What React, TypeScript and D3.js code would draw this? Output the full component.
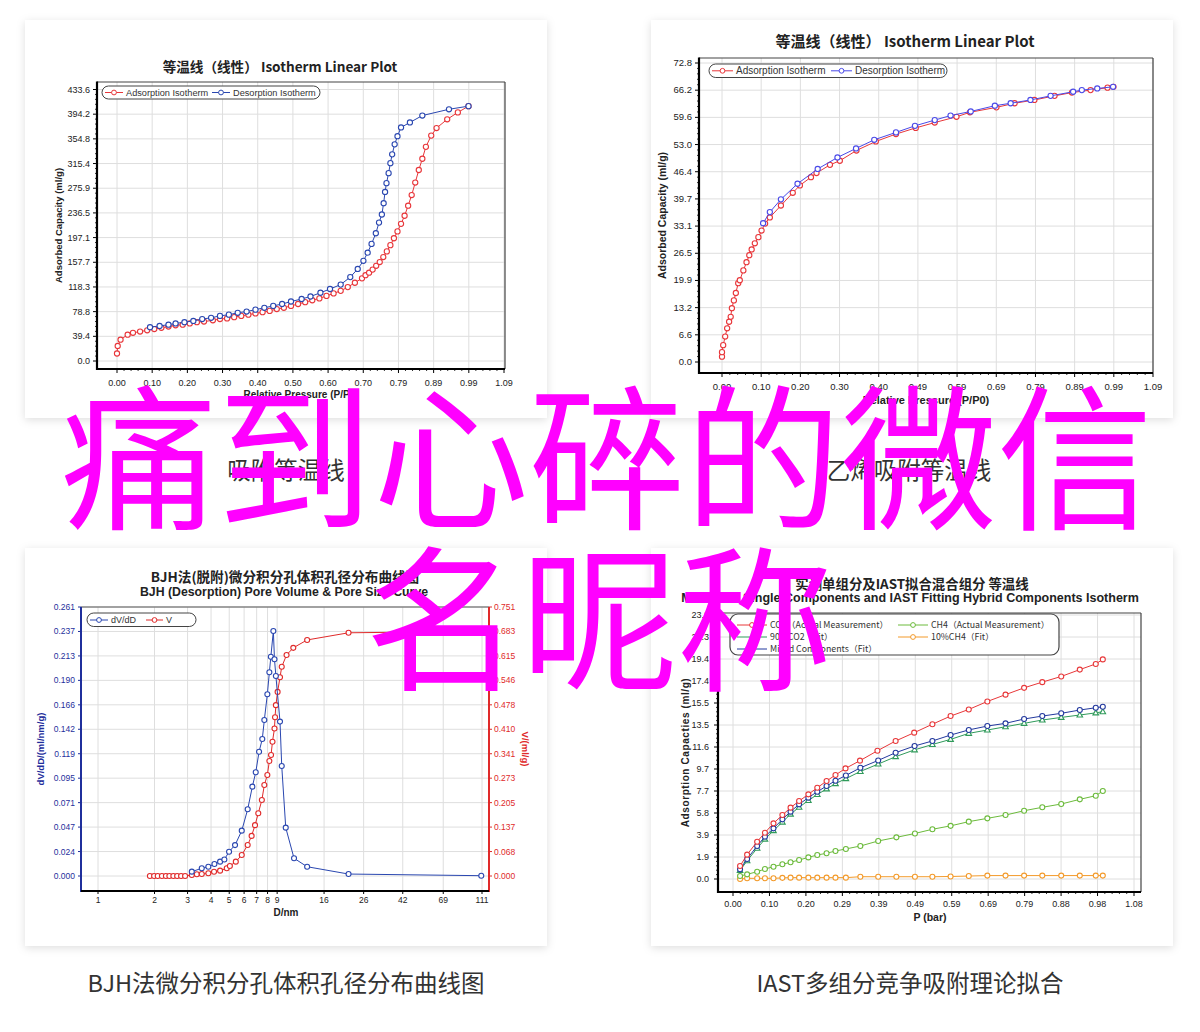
import React from "react";
import * as d3 from "d3";

type Pt = [number, number];
type Tick = { v: number; label: string };

const FONT = "'Liberation Sans', Arial, Helvetica, sans-serif";
const CJK = "'Noto Sans CJK SC', 'Liberation Sans', sans-serif";

// ================= Panel 1: Isotherm (top-left) =================
const p1Title = "等温线（线性） Isotherm Linear Plot";
const p1XLabels = ["0.00", "0.10", "0.20", "0.30", "0.40", "0.50", "0.60", "0.70", "0.79", "0.89", "0.99", "1.09"];
const p1YLabels = ["0.0", "39.4", "78.8", "118.3", "157.7", "197.1", "236.5", "275.9", "315.4", "354.8", "394.2", "433.6"];
const p1Adsorption: Pt[] = [
  [0.0, 12], [0.002, 24], [0.01, 34], [0.03, 42], [0.045, 45], [0.065, 47], [0.085, 49], [0.105, 51],
  [0.125, 53], [0.145, 55], [0.165, 57], [0.185, 58], [0.205, 60], [0.225, 62], [0.245, 63], [0.27, 65],
  [0.29, 67], [0.31, 68], [0.33, 70], [0.35, 72], [0.37, 74], [0.39, 76], [0.41, 78], [0.43, 80],
  [0.45, 83], [0.47, 85], [0.49, 88], [0.51, 91], [0.53, 94], [0.55, 97], [0.57, 100], [0.59, 104],
  [0.61, 108], [0.63, 112], [0.65, 118], [0.67, 125], [0.69, 132], [0.7, 137], [0.71, 141], [0.72, 146],
  [0.73, 152], [0.74, 158], [0.75, 166], [0.76, 175], [0.77, 185], [0.78, 196], [0.79, 207], [0.8, 219],
  [0.81, 232], [0.82, 248], [0.83, 265], [0.84, 285], [0.85, 305], [0.86, 323], [0.87, 342], [0.885, 360],
  [0.9, 372], [0.93, 386], [0.96, 397], [0.99, 407],
];
const p1Desorption: Pt[] = [
  [0.99, 407], [0.935, 402], [0.86, 392], [0.825, 381], [0.8, 373], [0.79, 359], [0.782, 346], [0.775, 330],
  [0.77, 316], [0.765, 300], [0.759, 284], [0.755, 270], [0.751, 252], [0.746, 234], [0.738, 221], [0.729, 204],
  [0.717, 187], [0.706, 173], [0.694, 160], [0.678, 147], [0.657, 134], [0.63, 122], [0.6, 115], [0.573, 109],
  [0.545, 103], [0.52, 99], [0.49, 95], [0.465, 91], [0.44, 88], [0.415, 85], [0.39, 82], [0.365, 79],
  [0.34, 77], [0.315, 74], [0.29, 72], [0.265, 69], [0.24, 67], [0.215, 64], [0.19, 62], [0.165, 60],
  [0.145, 58], [0.12, 56], [0.093, 54],
];

// ================= Panel 2: Isotherm (top-right) =================
const p2Title = "等温线（线性） Isotherm Linear Plot";
const p2XLabels = ["0.00", "0.10", "0.20", "0.30", "0.40", "0.49", "0.59", "0.69", "0.79", "0.89", "0.99", "1.09"];
const p2YLabels = ["0.0", "6.6", "13.2", "19.9", "26.5", "33.1", "39.7", "46.4", "53.0", "59.6", "66.2", "72.8"];
const p2Adsorption: Pt[] = [
  [0.0, 1.3], [0.0, 2.4], [0.003, 4.1], [0.008, 6.2], [0.013, 8.2], [0.018, 9.8], [0.022, 11.0], [0.025, 13.1],
  [0.03, 15.0], [0.035, 16.8], [0.041, 19.2], [0.045, 19.9], [0.054, 22.3], [0.062, 24.3], [0.069, 26.0],
  [0.075, 27.4], [0.083, 28.9], [0.092, 30.4], [0.1, 32.0], [0.109, 33.7], [0.121, 35.2], [0.149, 38.1],
  [0.179, 41.2], [0.197, 43.0], [0.225, 45.0], [0.239, 46.0], [0.273, 48.0], [0.298, 49.0], [0.34, 51.5],
  [0.389, 53.7], [0.44, 55.5], [0.49, 57.0], [0.538, 58.3], [0.593, 59.7], [0.627, 60.8], [0.694, 62.0],
  [0.74, 63.0], [0.79, 63.8], [0.841, 64.8], [0.885, 65.6], [0.932, 66.2], [0.975, 66.8], [0.99, 67.0],
];
const p2Desorption: Pt[] = [
  [0.104, 33.8], [0.121, 36.5], [0.149, 39.6], [0.191, 43.4], [0.242, 47.0], [0.292, 49.8], [0.339, 52.0],
  [0.385, 54.1], [0.44, 55.9], [0.488, 57.5], [0.538, 58.9], [0.578, 60.0], [0.629, 61.0], [0.69, 62.4],
  [0.73, 63.0], [0.78, 63.8], [0.831, 64.8], [0.888, 65.8], [0.91, 66.2], [0.949, 66.6], [0.989, 67.0],
];

// ================= Panel 3: BJH (bottom-left) =================
const p3Title1 = "BJH法(脱附)微分积分孔体积孔径分布曲线图";
const p3Title2 = "BJH (Desorption) Pore Volume & Pore Size Curve";
const p3XTicks = [1, 2, 3, 4, 5, 6, 7, 8, 9, 16, 26, 42, 69, 111];
const p3YLeftLabels = ["0.000", "0.024", "0.047", "0.071", "0.095", "0.119", "0.142", "0.166", "0.190", "0.213", "0.237", "0.261"];
const p3YRightLabels = ["0.000", "0.068", "0.137", "0.205", "0.273", "0.341", "0.410", "0.478", "0.546", "0.615", "0.683", "0.751"];
const p3dVdD: Pt[] = [
  [3.16, 0.0042], [3.57, 0.0075], [3.87, 0.009], [4.17, 0.0116], [4.47, 0.0139], [4.71, 0.016], [4.99, 0.0236],
  [5.37, 0.03], [5.83, 0.044], [6.27, 0.0647], [6.64, 0.0867], [6.92, 0.1006], [7.21, 0.1206], [7.5, 0.1329],
  [7.69, 0.1514], [7.98, 0.1763], [8.18, 0.1977], [8.33, 0.2128], [8.59, 0.2377], [8.71, 0.2103], [8.86, 0.1941],
  [9.32, 0.1498], [9.52, 0.1067], [10.0, 0.0469], [11.07, 0.0172], [13.0, 0.009], [21.6, 0.0019], [110, 0.0003],
];
const p3V: Pt[] = [
  [1.89, 0], [1.99, 0], [2.08, 0], [2.19, 0], [2.3, 0], [2.4, 0], [2.52, 0], [2.64, 0], [2.77, 0], [2.91, 0],
  [3.16, 0.003], [3.36, 0.005], [3.57, 0.0056], [3.87, 0.0075], [4.15, 0.012], [4.47, 0.015], [4.85, 0.0215],
  [5.04, 0.028], [5.42, 0.04], [5.83, 0.0586], [6.27, 0.0865], [6.58, 0.112], [6.86, 0.142], [7.14, 0.175],
  [7.46, 0.212], [7.69, 0.254], [7.98, 0.282], [8.18, 0.321], [8.35, 0.338], [8.5, 0.375], [8.71, 0.412],
  [8.77, 0.443], [8.86, 0.477], [9.05, 0.514], [9.32, 0.555], [9.52, 0.584], [10.1, 0.617], [10.97, 0.637],
  [13.0, 0.659], [21.6, 0.679], [111, 0.683],
];

// ================= Panel 4: IAST (bottom-right) =================
const p4Title1 = "实测单组分及IAST拟合混合组分 等温线";
const p4Title2 = "Measured Single Components and IAST Fitting Hybrid Components Isotherm";
const p4XLabels = ["0.00", "0.10", "0.20", "0.29", "0.39", "0.49", "0.59", "0.69", "0.79", "0.88", "0.98", "1.08"];
const p4YLabels = ["0.0", "1.9", "3.9", "5.8", "7.7", "9.7", "11.6", "13.5", "15.5", "17.4", "19.4", "21.3", "23.2"];
const p4CO2: Pt[] = [
  [0.019, 1.14], [0.038, 2.14], [0.065, 3.28], [0.086, 4.07], [0.109, 4.89], [0.133, 5.62], [0.155, 6.27],
  [0.178, 6.85], [0.203, 7.44], [0.227, 8.02], [0.252, 8.61], [0.276, 9.14], [0.303, 9.72], [0.342, 10.4],
  [0.389, 11.27], [0.438, 12.13], [0.488, 12.86], [0.537, 13.6], [0.586, 14.32], [0.635, 14.9], [0.685, 15.6],
  [0.734, 16.2], [0.784, 16.8], [0.833, 17.3], [0.884, 17.8], [0.934, 18.4], [0.977, 18.9], [0.996, 19.3],
];
const p4CH4: Pt[] = [
  [0.019, 0.26], [0.038, 0.41], [0.065, 0.64], [0.086, 0.88], [0.109, 1.08], [0.133, 1.29], [0.155, 1.47],
  [0.178, 1.67], [0.203, 1.9], [0.227, 2.11], [0.252, 2.26], [0.276, 2.46], [0.304, 2.64], [0.343, 2.9],
  [0.391, 3.34], [0.44, 3.66], [0.49, 4.0], [0.537, 4.37], [0.586, 4.67], [0.635, 5.04], [0.685, 5.33],
  [0.734, 5.62], [0.784, 6.0], [0.833, 6.3], [0.884, 6.59], [0.934, 7.0], [0.977, 7.32], [0.996, 7.73],
];
const p4CO2Fit: Pt[] = [
  [0.019, 0.75], [0.038, 1.6], [0.065, 2.7], [0.086, 3.5], [0.109, 4.25], [0.133, 5.0], [0.155, 5.7],
  [0.178, 6.3], [0.203, 6.9], [0.227, 7.42], [0.252, 7.92], [0.276, 8.38], [0.304, 8.82], [0.343, 9.45],
  [0.391, 10.1], [0.438, 10.75], [0.489, 11.35], [0.537, 11.82], [0.586, 12.27], [0.635, 12.8], [0.685, 13.09],
  [0.734, 13.38], [0.784, 13.68], [0.833, 13.97], [0.884, 14.2], [0.934, 14.41], [0.977, 14.6], [0.996, 14.7],
];
const p4CH4Fit: Pt[] = [
  [0.019, 0.0], [0.038, 0.06], [0.065, 0.06], [0.086, 0.06], [0.109, 0.06], [0.133, 0.1], [0.155, 0.12],
  [0.178, 0.12], [0.203, 0.12], [0.227, 0.12], [0.252, 0.12], [0.276, 0.12], [0.304, 0.12], [0.343, 0.2],
  [0.391, 0.2], [0.44, 0.2], [0.49, 0.2], [0.537, 0.2], [0.586, 0.22], [0.635, 0.26], [0.685, 0.3],
  [0.734, 0.3], [0.784, 0.3], [0.833, 0.3], [0.884, 0.3], [0.934, 0.3], [0.977, 0.3], [0.996, 0.3],
];
const p4Mixed: Pt[] = [
  [0.019, 0.85], [0.038, 1.76], [0.065, 2.9], [0.086, 3.72], [0.109, 4.45], [0.133, 5.24], [0.155, 5.92],
  [0.178, 6.56], [0.203, 7.15], [0.227, 7.67], [0.252, 8.17], [0.276, 8.64], [0.304, 9.1], [0.343, 9.77],
  [0.391, 10.42], [0.438, 11.1], [0.489, 11.69], [0.537, 12.13], [0.586, 12.65], [0.635, 13.1], [0.685, 13.44],
  [0.734, 13.68], [0.784, 14.06], [0.833, 14.32], [0.884, 14.56], [0.934, 14.85], [0.977, 15.05], [0.996, 15.14],
];
const p4LegendNames = ["CO2（Actual Measurement）", "CH4（Actual Measurement）", "90%CO2（Fit）", "10%CH4（Fit）", "Mixed Components（Fit）"];

const captions = ["吸附等温线", "乙烯吸附等温线", "BJH法微分积分孔体积孔径分布曲线图", "IAST多组分竞争吸附理论拟合"];
const overlayLines = ["痛到心碎的微信", "名昵称"];

// ================= helpers =================
const RED = "#e8363a";
const BLUE = "#2a47b0";
const BLUE2 = "#4a4ae8";

function ticksFrom(labels: string[]): Tick[] {
  const n = labels.length;
  const max = parseFloat(labels[n - 1]);
  return labels.map((l, i) => ({ v: (max * i) / (n - 1), label: l }));
}

function minors(ticks: Tick[], sub: number): number[] {
  const out: number[] = [];
  for (let i = 0; i < ticks.length - 1; i++) {
    const a = ticks[i].v, b = ticks[i + 1].v;
    for (let k = 1; k < sub; k++) out.push(a + ((b - a) * k) / sub);
  }
  return out;
}

function Series({ data, x, y, color, marker = "circle", r = 2.6, sw = 1 }: any) {
  const line = d3.line<Pt>().x((d) => x(d[0])).y((d) => y(d[1]));
  return (
    <g>
      <path d={line(data) || ""} fill="none" stroke={color} strokeWidth={sw} />
      {data.map((d: Pt, i: number) => {
        const cx = x(d[0]), cy = y(d[1]);
        if (marker === "tri")
          return (
            <path key={i} d={`M${cx},${cy - 3}L${cx + 2.8},${cy + 2}L${cx - 2.8},${cy + 2}Z`} fill="#fff" stroke={color} strokeWidth={1.1} />
          );
        return <circle key={i} cx={cx} cy={cy} r={r} fill="#fff" stroke={color} strokeWidth={1.1} />;
      })}
    </g>
  );
}

function Grid({ L, T, R, B, xs, ys, xv, yv, color = "#dedede" }: any) {
  return (
    <g>
      <rect x={L} y={T} width={R - L} height={B - T} fill="#fff" />
      {xv.map((v: number, i: number) => (
        <line key={"gx" + i} x1={xs(v)} x2={xs(v)} y1={T} y2={B} stroke={color} strokeWidth={1} />
      ))}
      {yv.map((v: number, i: number) => (
        <line key={"gy" + i} x1={L} x2={R} y1={ys(v)} y2={ys(v)} stroke={color} strokeWidth={1} />
      ))}
    </g>
  );
}

function LegendItem({ x, y, color, label, w = 18, fs = 8.5, marker = "circle", family = FONT }: any) {
  const cx = x + w / 2;
  return (
    <g>
      <line x1={x} x2={x + w} y1={y} y2={y} stroke={color} strokeWidth={1} />
      {marker === "tri" ? (
        <path d={`M${cx},${y - 3}L${cx + 2.8},${y + 2}L${cx - 2.8},${y + 2}Z`} fill="#fff" stroke={color} strokeWidth={1} />
      ) : (
        <circle cx={cx} cy={y} r={2.4} fill="#fff" stroke={color} strokeWidth={1} />
      )}
      <text x={x + w + 3} y={y + 3} fontSize={fs} fontFamily={family} fill="#333">
        {label}
      </text>
    </g>
  );
}

// linear axes (left/bottom thick, top/right thin)
function LinearAxes({ L, T, R, B, xs, ys, xt, yt, fs = 9, xDy = 16.5, yGap = 7 }: any) {
  const xm = minors(xt, 5).filter((v) => xs(v) > L && xs(v) < R);
  const ym = minors(yt, 5).filter((v) => ys(v) < B && ys(v) > T);
  return (
    <g fontFamily={FONT}>
      <line x1={L} x2={R} y1={T} y2={T} stroke="#444" strokeWidth={1.2} />
      <line x1={R} x2={R} y1={T} y2={B} stroke="#444" strokeWidth={1.2} />
      <line x1={L} x2={L} y1={T - 0.5} y2={B + 1} stroke="#000" strokeWidth={2.2} />
      <line x1={L - 1} x2={R} y1={B} y2={B} stroke="#000" strokeWidth={2.2} />
      {xt.map((t: Tick, i: number) => (
        <g key={"xt" + i}>
          <line x1={xs(t.v)} x2={xs(t.v)} y1={B} y2={B + 4} stroke="#000" strokeWidth={1} />
          <text x={xs(t.v)} y={B + xDy} fontSize={fs} textAnchor="middle" fill="#222">
            {t.label}
          </text>
        </g>
      ))}
      {xm.map((v: number, i: number) => (
        <line key={"xm" + i} x1={xs(v)} x2={xs(v)} y1={B} y2={B + 2} stroke="#000" strokeWidth={0.8} />
      ))}
      {yt.map((t: Tick, i: number) => (
        <g key={"yt" + i}>
          <line x1={L - 4} x2={L} y1={ys(t.v)} y2={ys(t.v)} stroke="#000" strokeWidth={1} />
          <text x={L - yGap} y={ys(t.v) + 3} fontSize={fs} textAnchor="end" fill="#222">
            {t.label}
          </text>
        </g>
      ))}
      {ym.map((v: number, i: number) => (
        <line key={"ym" + i} x1={L - 2} x2={L} y1={ys(v)} y2={ys(v)} stroke="#000" strokeWidth={0.8} />
      ))}
    </g>
  );
}

// ================= panels =================
function Panel1() {
  const L = 97, T = 82, R = 505, B = 369;
  const xt = ticksFrom(p1XLabels), yt = ticksFrom(p1YLabels);
  const xs = d3.scaleLinear().domain([0, xt[xt.length - 1].v]).range([117, 504]);
  const ys = d3.scaleLinear().domain([0, yt[yt.length - 1].v]).range([361, 89.5]);
  return (
    <g>
      <text x={280} y={72} fontSize={13.6} fontWeight="bold" textAnchor="middle" fontFamily={CJK} fill="#222">
        {p1Title}
      </text>
      <Grid L={L} T={T} R={R} B={B} xs={xs} ys={ys} xv={xt.map((t) => t.v)} yv={yt.map((t) => t.v)} />
      <Series data={p1Adsorption} x={xs} y={ys} color={RED} />
      <Series data={p1Desorption} x={xs} y={ys} color={BLUE} />
      <LinearAxes L={L} T={T} R={R} B={B} xs={xs} ys={ys} xt={xt} yt={yt} />
      <rect x={102} y={86} width={218} height={13} rx={6.5} fill="#fff" stroke="#444" strokeWidth={1} />
      <LegendItem x={105} y={92.5} color={RED} label="Adsorption Isotherm" w={18} fs={9.2} />
      <LegendItem x={212} y={92.5} color={BLUE} label="Desorption Isotherm" w={18} fs={9.2} />
      <text transform={`translate(62,${(T + B) / 2}) rotate(-90)`} fontSize={9.5} fontWeight="bold" textAnchor="middle" fontFamily={FONT} fill="#222">
        Adsorbed Capacity (ml/g)
      </text>
      <text x={(L + R) / 2} y={398} fontSize={10} fontWeight="bold" textAnchor="middle" fontFamily={FONT} fill="#222">
        Relative Pressure (P/P0)
      </text>
    </g>
  );
}

function Panel2() {
  const L = 699, T = 58, R = 1153, B = 373;
  const xt = ticksFrom(p2XLabels), yt = ticksFrom(p2YLabels);
  const xs = d3.scaleLinear().domain([0, xt[xt.length - 1].v]).range([722, 1153]);
  const ys = d3.scaleLinear().domain([0, yt[yt.length - 1].v]).range([362, 63]);
  return (
    <g>
      <text x={905} y={47} fontSize={15} fontWeight="bold" textAnchor="middle" fontFamily={CJK} fill="#222">
        {p2Title}
      </text>
      <Grid L={L} T={T} R={R} B={B} xs={xs} ys={ys} xv={xt.map((t) => t.v)} yv={yt.map((t) => t.v)} />
      <Series data={p2Adsorption} x={xs} y={ys} color={RED} />
      <Series data={p2Desorption} x={xs} y={ys} color={BLUE2} />
      <LinearAxes L={L} T={T} R={R} B={B} xs={xs} ys={ys} xt={xt} yt={yt} fs={9.5} />
      <rect x={709} y={64} width={238} height={13.5} rx={6.7} fill="#fff" stroke="#444" strokeWidth={1} />
      <LegendItem x={712} y={70.8} color={RED} label="Adsorption Isotherm" w={21} fs={10} />
      <LegendItem x={831} y={70.8} color={BLUE2} label="Desorption Isotherm" w={21} fs={10} />
      <text transform={`translate(666,${(T + B) / 2}) rotate(-90)`} fontSize={10.5} fontWeight="bold" textAnchor="middle" fontFamily={FONT} fill="#222">
        Adsorbed Capacity (ml/g)
      </text>
      <text x={(L + R) / 2} y={404} fontSize={11} fontWeight="bold" textAnchor="middle" fontFamily={FONT} fill="#222">
        Relative Pressure (P/P0)
      </text>
    </g>
  );
}

function Panel3() {
  const L = 81, T = 607, R = 489, B = 891;
  const xs = d3.scaleLog().domain([1, 111]).range([98, 482]);
  const ytl = ticksFrom(p3YLeftLabels), ytr = ticksFrom(p3YRightLabels);
  const yl = d3.scaleLinear().domain([0, ytl[ytl.length - 1].v]).range([876, 607]);
  const yr = d3.scaleLinear().domain([0, ytr[ytr.length - 1].v]).range([876, 607]);
  const LBLUE = "#1f2f9c", LRED = "#e02a2a";
  return (
    <g fontFamily={FONT}>
      <text x={285} y={582} fontSize={13.6} fontWeight="bold" textAnchor="middle" fontFamily={CJK} fill="#222">
        {p3Title1}
      </text>
      <text x={284} y={596} fontSize={12.3} fontWeight="bold" textAnchor="middle" fill="#222">
        {p3Title2}
      </text>
      <Grid L={L} T={T} R={R} B={B} xs={xs} ys={yl} xv={p3XTicks} yv={ytl.map((t) => t.v)} />
      <Series data={p3V} x={xs} y={yr} color={LRED} r={2.5} />
      <Series data={p3dVdD} x={xs} y={yl} color={BLUE} r={2.5} />
      <line x1={L} x2={R} y1={T} y2={T} stroke="#555" strokeWidth={1.2} />
      <line x1={L} x2={L} y1={T} y2={B + 1} stroke={LBLUE} strokeWidth={2} />
      <line x1={R} x2={R} y1={T} y2={B + 1} stroke={LRED} strokeWidth={2} />
      <line x1={L} x2={R} y1={B} y2={B} stroke="#000" strokeWidth={2.2} />
      {p3XTicks.map((v, i) => (
        <g key={"x" + i}>
          <line x1={xs(v)} x2={xs(v)} y1={B} y2={B + 3} stroke="#000" />
          <text x={xs(v)} y={B + 12} fontSize={8.5} textAnchor="middle" fill="#222">
            {v}
          </text>
        </g>
      ))}
      {ytl.map((t, i) => (
        <g key={"yl" + i}>
          <line x1={L - 3} x2={L} y1={yl(t.v)} y2={yl(t.v)} stroke={LBLUE} />
          <text x={L - 6} y={yl(t.v) + 3} fontSize={8.5} textAnchor="end" fill={LBLUE}>
            {t.label}
          </text>
        </g>
      ))}
      {ytr.map((t, i) => (
        <g key={"yr" + i}>
          <line x1={R} x2={R + 3} y1={yr(t.v)} y2={yr(t.v)} stroke={LRED} />
          <text x={R + 5} y={yr(t.v) + 3} fontSize={8.5} textAnchor="start" fill={LRED}>
            {t.label}
          </text>
        </g>
      ))}
      <rect x={87} y={613} width={109} height={13.5} rx={6.7} fill="#fff" stroke="#444" strokeWidth={1} />
      <LegendItem x={90} y={620} color={BLUE} label="dV/dD" w={18} fs={9} />
      <LegendItem x={146} y={620} color={LRED} label="V" w={17} fs={9} />
      <text transform={`translate(44,${(T + B) / 2}) rotate(-90)`} fontSize={9.5} fontWeight="bold" textAnchor="middle" fill={LBLUE}>
        dV/dD/(ml/nm/g)
      </text>
      <text transform={`translate(522,${(T + B) / 2}) rotate(90)`} fontSize={9.5} fontWeight="bold" textAnchor="middle" fill={LRED}>
        V/(ml/g)
      </text>
      <text x={286} y={916} fontSize={10} fontWeight="bold" textAnchor="middle" fill="#222">
        D/nm
      </text>
    </g>
  );
}

function Panel4() {
  const L = 718, T = 613, R = 1141, B = 892;
  const xt = ticksFrom(p4XLabels), yt = ticksFrom(p4YLabels);
  const xs = d3.scaleLinear().domain([0, xt[xt.length - 1].v]).range([733, 1134]);
  const ys = d3.scaleLinear().domain([0, yt[yt.length - 1].v]).range([879, 615]);
  const cRed = "#e8383a", cGreen = "#6cbb3c", cFit = "#2f9a5a", cOrange = "#f39a2a", cBlue = "#23399e";
  return (
    <g>
      <text x={912} y={589} fontSize={13.4} fontWeight="bold" textAnchor="middle" fontFamily={CJK} fill="#222">
        {p4Title1}
      </text>
      <text x={910} y={602} fontSize={12.5} fontWeight="bold" textAnchor="middle" fontFamily={FONT} fill="#222">
        {p4Title2}
      </text>
      <Grid L={L} T={T} R={R} B={B} xs={xs} ys={ys} xv={xt.map((t) => t.v)} yv={yt.map((t) => t.v)} />
      <Series data={p4CH4Fit} x={xs} y={ys} color={cOrange} r={2.5} />
      <Series data={p4CH4} x={xs} y={ys} color={cGreen} r={2.5} />
      <Series data={p4CO2Fit} x={xs} y={ys} color={cFit} marker="tri" />
      <Series data={p4Mixed} x={xs} y={ys} color={cBlue} r={2.5} />
      <Series data={p4CO2} x={xs} y={ys} color={cRed} r={2.5} />
      <LinearAxes L={L} T={T} R={R} B={B} xs={xs} ys={ys} xt={xt} yt={yt} fs={9} xDy={14.5} yGap={9} />
      <rect x={730} y={614} width={329} height={41} rx={8} fill="#fff" stroke="#444" strokeWidth={1.2} />
      <LegendItem x={737} y={625} color={cRed} label={p4LegendNames[0]} w={30} fs={8.8} family={CJK} />
      <LegendItem x={898} y={625} color={cGreen} label={p4LegendNames[1]} w={30} fs={8.8} family={CJK} />
      <LegendItem x={737} y={637} color={cFit} label={p4LegendNames[2]} w={30} fs={8.8} marker="tri" family={CJK} />
      <LegendItem x={898} y={637} color={cOrange} label={p4LegendNames[3]} w={30} fs={8.8} family={CJK} />
      <LegendItem x={737} y={649} color={cBlue} label={p4LegendNames[4]} w={30} fs={8.8} family={CJK} />
      <text transform={`translate(689,${(T + B) / 2}) rotate(-90)`} fontSize={10} fontWeight="bold" textAnchor="middle" fontFamily={FONT} fill="#222" letterSpacing={0.6}>
        Adsorption Capacties (ml/g)
      </text>
      <text x={930} y={921} fontSize={10.5} fontWeight="bold" textAnchor="middle" fontFamily={FONT} fill="#222">
        P (bar)
      </text>
    </g>
  );
}

export default function App() {
  const cards = [
    { x: 25, y: 20, w: 522, h: 398 },
    { x: 651, y: 20, w: 522, h: 398 },
    { x: 25, y: 548, w: 522, h: 398 },
    { x: 651, y: 548, w: 522, h: 398 },
  ];
  return (
    <svg width={1200} height={1032} style={{ position: "absolute", left: 0, top: 0 }}>
      <defs>
        <filter id="sh" x="-5%" y="-5%" width="110%" height="115%">
          <feDropShadow dx="0" dy="2" stdDeviation="4" floodColor="#000" floodOpacity="0.13" />
        </filter>
      </defs>
      <rect width={1200} height={1032} fill="#fff" />
      {cards.map((c, i) => (
        <rect key={i} x={c.x} y={c.y} width={c.w} height={c.h} fill="#fff" filter="url(#sh)" />
      ))}
      <Panel1 />
      <Panel2 />
      <Panel3 />
      <Panel4 />
      <text x={286} y={479} fontSize={23.5} textAnchor="middle" fontFamily={CJK} fill="#333">
        {captions[0]}
      </text>
      <text x={909} y={479} fontSize={23.5} textAnchor="middle" fontFamily={CJK} fill="#333">
        {captions[1]}
      </text>
      <text x={286} y={992} fontSize={23.5} textAnchor="middle" fontFamily={CJK} fill="#333">
        {captions[2]}
      </text>
      <text x={910} y={992} fontSize={23.5} textAnchor="middle" fontFamily={CJK} fill="#333">
        {captions[3]}
      </text>
      <text x={607} y={517} fontSize={156} textAnchor="middle" fontFamily={CJK} fill="#ff00ff">
        {overlayLines[0]}
      </text>
      <text x={599} y={678} fontSize={156} textAnchor="middle" fontFamily={CJK} fill="#ff00ff">
        {overlayLines[1]}
      </text>
    </svg>
  );
}
